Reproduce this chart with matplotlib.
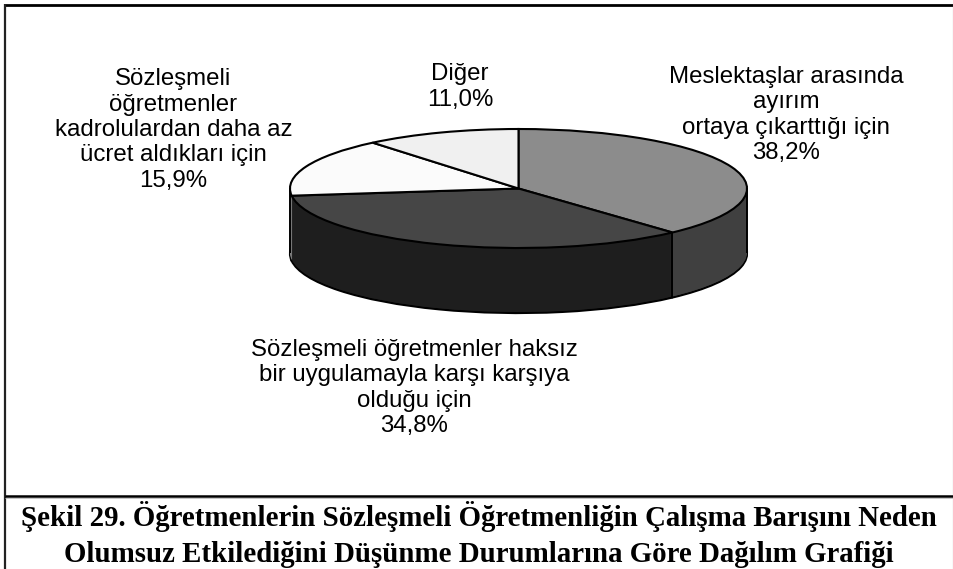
import numpy as np
import matplotlib
matplotlib.use("Agg")
import matplotlib.pyplot as plt

values = [38.2, 34.8, 15.9, 11.0]
top_colors = ["#8c8c8c", "#464646", "#fbfbfb", "#f0f0f0"]
side_colors = ["#404040", "#1e1e1e", "#808080", "#707070"]
labels = ["Meslektaşlar arasında\nayırım\nortaya çıkarttığı için\n38,2%",
          "Sözleşmeli öğretmenler haksız\nbir uygulamayla karşı karşıya\nolduğu için\n34,8%",
          "Sözleşmeli\nöğretmenler\nkadrolulardan daha az\nücret aldıkları için\n15,9%",
          "Diğer\n11,0%"]
title = "Şekil 29. Öğretmenlerin Sözleşmeli Öğretmenliğin Çalışma Barışını Neden\nOlumsuz Etkilediğini Düşünme Durumlarına Göre Dağılım Grafiği"

W, H = 954, 569
fig = plt.figure(figsize=(W/100, H/100), dpi=100, facecolor="white")
bg = fig.add_axes([0, 0, 1, 1])
bg.set_xlim(0, W); bg.set_ylim(H, 0); bg.axis("off")
bg.plot([4, W], [5, 5], color="black", lw=2, solid_capstyle="butt")
bg.plot([5, 5], [4, H], color="#222222", lw=1.6, solid_capstyle="butt")
bg.plot([953.5, 953.5], [4, H], color="#888888", lw=0.8, solid_capstyle="butt")
bg.plot([5, W], [496, 496], color="black", lw=1.8, solid_capstyle="butt")
bg.plot([5, W], [498, 498], color="#bbbbbb", lw=0.6, solid_capstyle="butt")

ax = fig.add_axes([0, 0, 1, 1], facecolor="none")
cx, cy, rx, ry, depth = 518.5, 188.5, 228.5, 59.5, 65
def frame():
    ax.set_aspect("auto")
    ax.set_xlim(-cx/rx, (W-cx)/rx)
    ax.set_ylim(-(H-cy)/ry, cy/ry)
for step in range(depth, 0, -1):
    ax.pie(values, colors=side_colors, startangle=90, counterclock=False,
           center=(0, -step/ry), radius=1, frame=False,
           wedgeprops=dict(lw=1.6 if step == depth else 0, ec="black"))
# vertical edges of the rim: both extremes and the visible slice boundary
boundary = np.deg2rad(90 - 360*values[0]/sum(values))
for xv, yv in [(-1, 0), (1, 0), (np.cos(boundary), np.sin(boundary))]:
    ax.plot([xv, xv], [yv, yv - depth/ry], color="black", lw=1.4, solid_capstyle="butt")
ax.pie(values, colors=top_colors, startangle=90, counterclock=False, radius=1, frame=False,
       wedgeprops=dict(lw=1.5, ec="black"))
frame()
ax.axis("off")

font = "Liberation Sans"
pos = [(786, 115), (414, 388), (173.5, 130), (460, 87)]
for (x, y), t in zip(pos, labels):
    bg.text(x, y, t, ha="center", va="center", family=font, fontsize=17.3, linespacing=1.2, color="black", zorder=10)
bg.text(479, 534.5, title, ha="center", va="center", family="Liberation Serif", fontweight="bold",
        fontsize=20.8, linespacing=1.4, color="black")
fig.savefig("out.png", dpi=100)
